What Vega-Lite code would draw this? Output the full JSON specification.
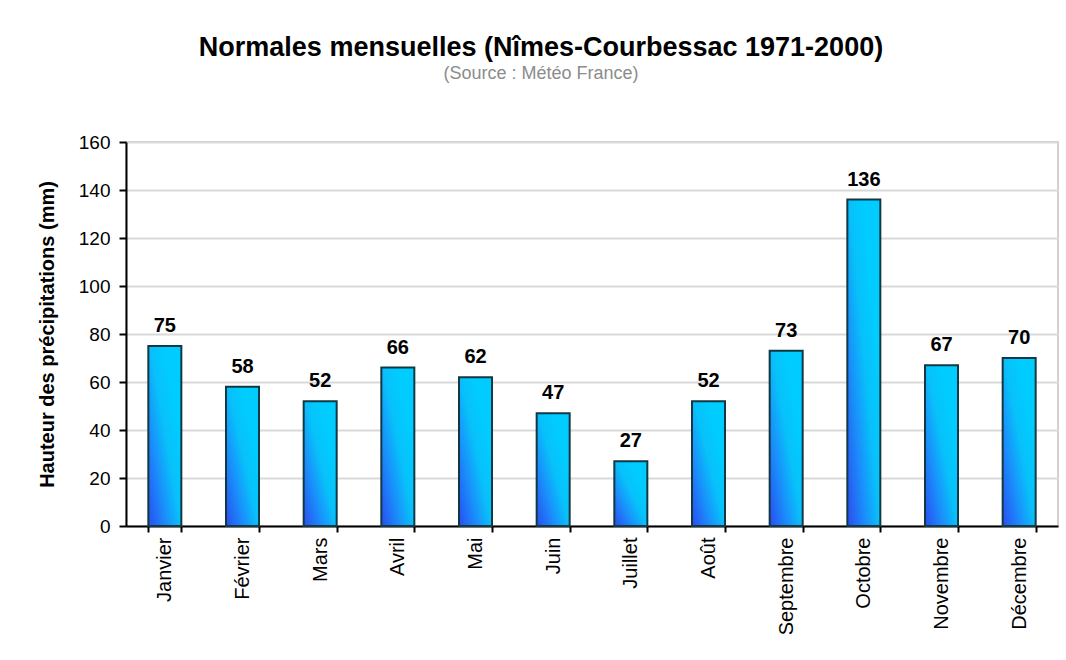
{
  "$schema": "https://vega.github.io/schema/vega-lite/v6.json",
  "autosize": "none",
  "width": 932,
  "height": 384,
  "padding": {"left": 126, "top": 142, "right": 8, "bottom": 134},
  "background": "white",
  "title": {
    "text": "Normales mensuelles (Nîmes-Courbessac 1971-2000)",
    "subtitle": "(Source : Météo France)",
    "anchor": "middle",
    "dx": -51,
    "offset": 49,
    "font": "Liberation Sans",
    "fontSize": 27,
    "fontWeight": "bold",
    "color": "black",
    "subtitleFont": "Liberation Sans",
    "subtitleFontSize": 18,
    "subtitleColor": "#8c8c8c",
    "subtitlePadding": 3
  },
  "data": {
    "values": [
      {"mois": "Janvier", "mm": 75},
      {"mois": "Février", "mm": 58},
      {"mois": "Mars", "mm": 52},
      {"mois": "Avril", "mm": 66},
      {"mois": "Mai", "mm": 62},
      {"mois": "Juin", "mm": 47},
      {"mois": "Juillet", "mm": 27},
      {"mois": "Août", "mm": 52},
      {"mois": "Septembre", "mm": 73},
      {"mois": "Octobre", "mm": 136},
      {"mois": "Novembre", "mm": 67},
      {"mois": "Décembre", "mm": 70}
    ]
  },
  "encoding": {
    "x": {
      "field": "mois",
      "type": "nominal",
      "sort": null,
      "scale": {"paddingInner": 0.575, "paddingOuter": 0.2875},
      "axis": {
        "title": null,
        "labelAngle": -90,
        "labelAlign": "right",
        "labelBaseline": "middle",
        "labelFont": "Liberation Sans",
        "labelFontSize": 20,
        "labelColor": "black",
        "labelPadding": 5,
        "tickBand": "extent",
        "tickSize": 6,
        "tickColor": "black",
        "tickWidth": 2,
        "domainColor": "black",
        "domainWidth": 2,
        "grid": false
      }
    },
    "y": {
      "field": "mm",
      "type": "quantitative",
      "scale": {"domain": [0, 160]},
      "axis": {
        "title": "Hauteur des précipitations (mm)",
        "titleFont": "Liberation Sans",
        "titleFontSize": 20,
        "titleFontWeight": "bold",
        "titleColor": "black",
        "titlePadding": 21,
        "values": [0, 20, 40, 60, 80, 100, 120, 140, 160],
        "labelFont": "Liberation Sans",
        "labelFontSize": 19,
        "labelColor": "black",
        "labelPadding": 9,
        "tickSize": 7,
        "tickColor": "black",
        "tickWidth": 2,
        "domainColor": "black",
        "domainWidth": 2,
        "grid": true,
        "gridColor": "#d9d9d9",
        "gridWidth": 2
      }
    }
  },
  "layer": [
    {
      "mark": {
        "type": "bar",
        "stroke": "#123844",
        "strokeWidth": 2,
        "color": {
          "gradient": "linear",
          "x1": 0, "y1": 1, "x2": 0.75, "y2": 0.3,
          "stops": [
            {"offset": 0, "color": "#2a4cf0"},
            {"offset": 0.4, "color": "#1a8ffb"},
            {"offset": 0.7, "color": "#08c0fa"},
            {"offset": 1, "color": "#00ccff"}
          ]
        }
      }
    },
    {
      "mark": {
        "type": "text",
        "baseline": "alphabetic",
        "dy": -14,
        "font": "Liberation Sans",
        "fontSize": 20,
        "fontWeight": "bold",
        "color": "black"
      },
      "encoding": {"text": {"field": "mm", "type": "quantitative"}}
    }
  ],
  "config": {
    "view": {"stroke": "#d0d0d0", "strokeWidth": 2}
  }
}
